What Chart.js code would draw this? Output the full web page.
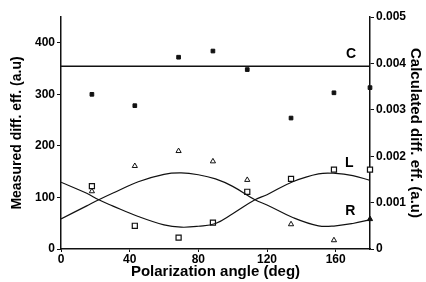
<!DOCTYPE html>
<html>
<head>
<meta charset="utf-8">
<script src="https://cdn.jsdelivr.net/npm/chart.js@4/dist/chart.umd.min.js"></script>
<style>
  html, body { margin: 0; padding: 0; background: #fff; }
  #wrap { width: 426px; height: 282px; }
</style>
</head>
<body>
<div id="wrap"><canvas id="polChart"></canvas></div>
<script>
// measured points (left axis, a.u)
const measAngles = [18, 43, 68.5, 88.5, 108.5, 134, 159, 180];
const cMeasured = [300, 278, 372, 384, 348, 254, 303, 313];
const lMeasured = [122, 45, 22, 51, 111, 136, 154, 154];
const rMeasured = [112, 161, 190, 170, 134, 48, 17, 58];

// calculated curves (right axis, a.u)
const calcAngles = [0, 15, 22, 30, 45, 60, 70, 80, 90, 100, 113, 120, 135, 150, 160, 170, 180];
const lCalc = [0.00144, 0.00120, 0.00106, 0.00093, 0.00070, 0.00052, 0.00047, 0.00049, 0.00055, 0.00076, 0.00106, 0.00117, 0.00145, 0.00162, 0.00163, 0.00158, 0.00148];
const rCalc = [0.00065, 0.00093, 0.00106, 0.00120, 0.00145, 0.00161, 0.00164, 0.00160, 0.00151, 0.00135, 0.00106, 0.00095, 0.00068, 0.00050, 0.00050, 0.00055, 0.00063];
const cCalc = 0.00394;

const xTicks = [0, 40, 80, 120, 160];
const leftTicks = [0, 100, 200, 300, 400];

const FONT = "'Liberation Sans', Arial, sans-serif";

const pts = (xs, ys) => xs.map((x, i) => ({ x, y: ys[i] }));

// curve labels C, L, R
const curveLabels = {
    id: "curveLabels",
    afterDatasetsDraw(chart) {
        const { ctx, scales } = chart;
        const items = [["C", 169, 0.00419], ["L", 168, 0.00185], ["R", 168.5, 0.00081]];
        ctx.save();
        ctx.font = "bold 14px " + FONT;
        ctx.fillStyle = "#000";
        ctx.textAlign = "center";
        ctx.textBaseline = "middle";
        items.forEach(([t, x, y]) => {
            ctx.fillText(t, scales.x.getPixelForValue(x), scales.y2.getPixelForValue(y));
        });
        ctx.restore();
    }
};

new Chart(document.getElementById("polChart"), {
    type: "scatter",
    data: {
        datasets: [
            {
                label: "C calc",
                data: [{ x: 0, y: cCalc }, { x: 180, y: cCalc }],
                yAxisID: "y2",
                showLine: true,
                borderColor: "#111",
                borderWidth: 1.4,
                pointRadius: 0
            },
            {
                label: "L calc",
                data: pts(calcAngles, lCalc),
                yAxisID: "y2",
                showLine: true,
                borderColor: "#111",
                borderWidth: 1.2,
                tension: 0.4,
                pointRadius: 0
            },
            {
                label: "R calc",
                data: pts(calcAngles, rCalc),
                yAxisID: "y2",
                showLine: true,
                borderColor: "#111",
                borderWidth: 1.2,
                tension: 0.4,
                pointRadius: 0
            },
            {
                label: "C measured",
                data: pts(measAngles, cMeasured),
                yAxisID: "y",
                pointStyle: "rect",
                pointRadius: 2.6,
                backgroundColor: "#111",
                borderColor: "#111",
                clip: false
            },
            {
                label: "L measured",
                data: pts(measAngles, lMeasured),
                yAxisID: "y",
                pointStyle: "rect",
                pointRadius: 3.6,
                backgroundColor: "#fff",
                borderColor: "#111",
                borderWidth: 1.2,
                clip: false
            },
            {
                label: "R measured",
                data: pts(measAngles, rMeasured),
                yAxisID: "y",
                pointStyle: "triangle",
                pointRadius: 3,
                // last triangle sits on the right axis and is drawn solid
                backgroundColor: measAngles.map(a => (a === 180 ? "#111" : "#fff")),
                borderColor: "#111",
                borderWidth: 1,
                clip: false
            }
        ]
    },
    options: {
        responsive: true,
        maintainAspectRatio: false,
        animation: false,
        layout: { padding: { top: 17 } },
        plugins: {
            legend: { display: false },
            tooltip: { enabled: false }
        },
        scales: {
            x: {
                type: "linear",
                min: 0,
                max: 180,
                afterBuildTicks: s => { s.ticks = xTicks.map(v => ({ value: v })); },
                afterFit: s => { s.height = 33; },
                grid: { drawOnChartArea: false, tickLength: 3, color: "#111" },
                border: { color: "#111", width: 1.5 },
                ticks: { color: "#000", padding: 0, font: { family: FONT, size: 12, weight: "bold" } },
                title: {
                    display: true,
                    text: "Polarization angle (deg)",
                    color: "#000",
                    padding: { top: 0, bottom: 1 },
                    font: { family: FONT, size: 15, weight: "bold" }
                }
            },
            y: {
                position: "left",
                min: 0,
                max: 450,
                afterBuildTicks: s => { s.ticks = leftTicks.map(v => ({ value: v })); },
                afterFit: s => { s.width = 61; },
                grid: { drawOnChartArea: false, tickLength: 4, color: "#111" },
                border: { color: "#111", width: 1.5 },
                ticks: { color: "#000", padding: 2, font: { family: FONT, size: 12, weight: "bold" } },
                title: {
                    display: true,
                    text: "Measured diff. eff. (a.u)",
                    color: "#000",
                    padding: { top: 9, bottom: 2 },
                    font: { family: FONT, size: 14, weight: "bold" }
                }
            },
            y2: {
                position: "right",
                min: 0,
                max: 0.005,
                afterFit: s => { s.width = 56; },
                grid: { drawOnChartArea: false, tickLength: 4, color: "#111" },
                border: { color: "#111", width: 1.5 },
                ticks: {
                    stepSize: 0.001,
                    color: "#000",
                    padding: 2,
                    font: { family: FONT, size: 12, weight: "bold" },
                    callback: v => (v === 0 ? "0" : v.toFixed(3))
                },
                title: {
                    display: true,
                    text: "Calculated diff. eff. (a.u)",
                    color: "#000",
                    padding: { top: 2, bottom: 0 },
                    font: { family: FONT, size: 15, weight: "bold" }
                }
            }
        }
    },
    plugins: [curveLabels]
});
</script>
</body>
</html>
